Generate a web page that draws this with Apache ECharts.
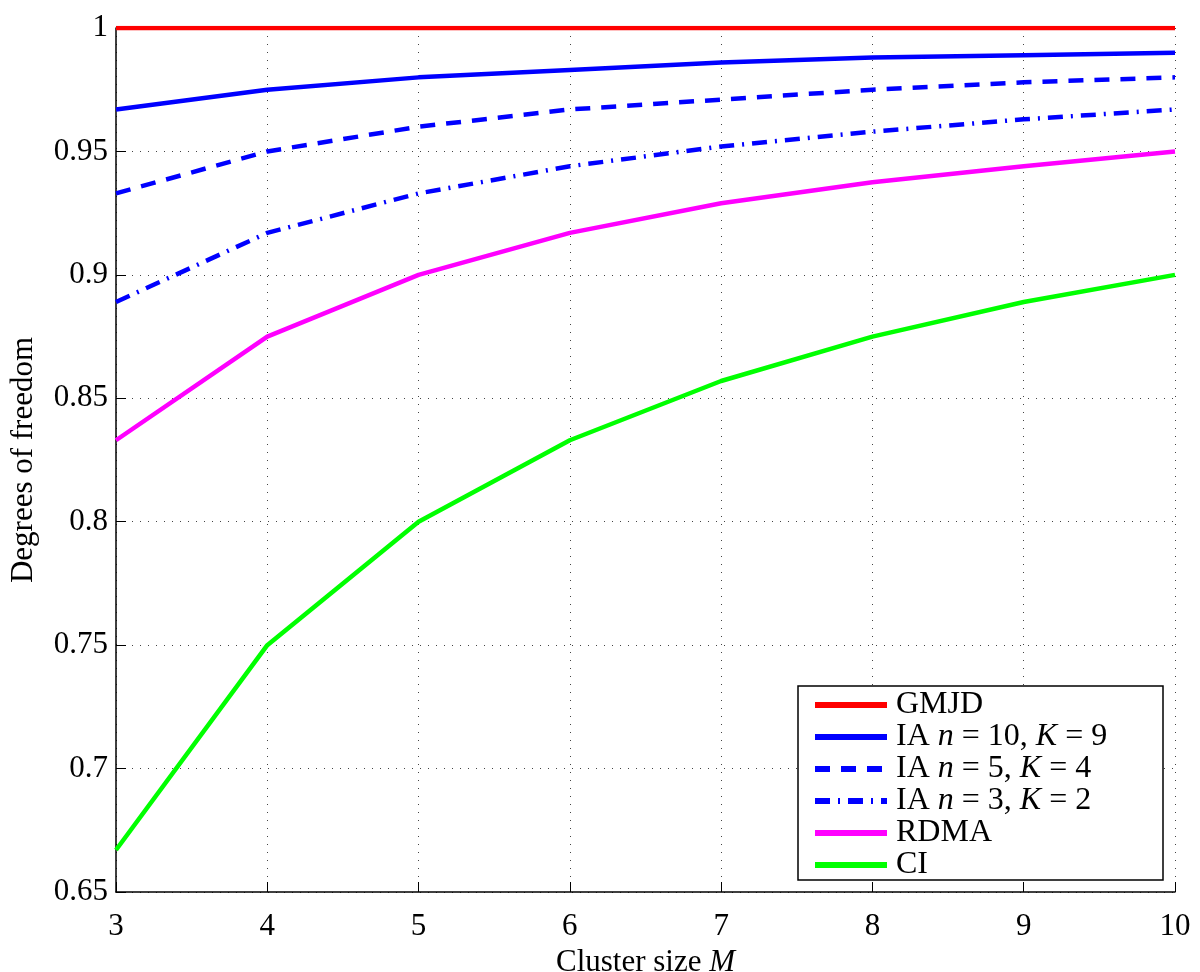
<!DOCTYPE html>
<html>
<head>
<meta charset="utf-8">
<script src="https://cdn.jsdelivr.net/npm/echarts@6/dist/echarts.min.js"></script>
<style>
    html, body { margin: 0; padding: 0; background: #fff; }
    #main { width: 1200px; height: 972px; }
</style>
</head>
<body>
<div id="main"></div>
<script>
var clusterSize = [3, 4, 5, 6, 7, 8, 9, 10];

var gmjd = [1, 1, 1, 1, 1, 1, 1, 1];
var ia10 = [0.967, 0.975, 0.980, 0.983, 0.986, 0.988, 0.989, 0.990];
var ia5 = [0.933, 0.950, 0.960, 0.967, 0.971, 0.975, 0.978, 0.980];
var ia3 = [0.889, 0.917, 0.933, 0.944, 0.952, 0.958, 0.963, 0.967];
var rdma = [0.833, 0.875, 0.900, 0.917, 0.929, 0.9375, 0.944, 0.950];
var ci = [0.667, 0.750, 0.800, 0.833, 0.857, 0.875, 0.889, 0.900];

var font = 'Liberation Serif';

function pairs(vals) {
    return clusterSize.map(function (m, i) { return [m, vals[i]]; });
}

function makeLine(name, vals, color, type, width) {
    return {
        name: name,
        type: 'line',
        data: pairs(vals),
        symbol: 'none',
        lineStyle: { color: color, width: width, type: type },
        itemStyle: { color: color },
        z: 3
    };
}

var legendNames = {
    'GMJD': 'GMJD',
    'IA1': 'IA {i|n} = 10, {i|K} = 9',
    'IA2': 'IA {i|n} = 5, {i|K} = 4',
    'IA3': 'IA {i|n} = 3, {i|K} = 2',
    'RDMA': 'RDMA',
    'CI': 'CI'
};

var myChart = echarts.init(document.getElementById('main'));

var option = {
    animation: false,
    backgroundColor: '#fff',
    grid: { left: 116, right: 25, top: 28, bottom: 80, outerBoundsMode: 'none' },
    xAxis: {
        type: 'value',
        min: 3,
        max: 10,
        interval: 1,
        name: 'Cluster size {i|M}',
        nameLocation: 'middle',
        nameGap: 48,
        nameTextStyle: {
            fontFamily: font, fontSize: 31, color: '#000',
            rich: { i: { fontFamily: font, fontSize: 31, fontStyle: 'italic', color: '#000' } }
        },
        axisLine: { show: true, onZero: false, lineStyle: { color: '#000', width: 1.5 } },
        axisTick: { inside: true, length: 10, lineStyle: { color: '#000', width: 1 } },
        axisLabel: { fontFamily: font, fontSize: 31, color: '#000', margin: 19 },
        splitLine: { show: true, lineStyle: { color: '#444', width: 1, type: [1, 7] } }
    },
    yAxis: {
        type: 'value',
        min: 0.65,
        max: 1,
        interval: 0.05,
        name: 'Degrees of freedom',
        nameLocation: 'middle',
        nameGap: 77,
        nameTextStyle: { fontFamily: font, fontSize: 31, color: '#000' },
        axisLine: { show: true, lineStyle: { color: '#000', width: 1.5 } },
        axisTick: { inside: true, length: 10, lineStyle: { color: '#000', width: 1 } },
        axisLabel: { fontFamily: font, fontSize: 31, color: '#000', margin: 8 },
        splitLine: { show: true, lineStyle: { color: '#444', width: 1, type: [1, 7] } }
    },
    graphic: [{
        type: 'rect',
        z: 10,
        shape: { x: 798, y: 686, width: 365, height: 194 },
        style: { fill: '#fff', stroke: '#000', lineWidth: 1.5 }
    }],
    legend: {
        orient: 'vertical',
        left: 798,
        top: 686,
        z: 20,
        padding: [3, 10, 6, 14],
        itemWidth: 72,
        itemHeight: 14,
        itemGap: 0,
        itemStyle: { opacity: 0 },
        lineStyle: { width: 6 },
        data: ['GMJD', 'IA1', 'IA2', 'IA3', 'RDMA', 'CI'],
        formatter: function (name) { return legendNames[name]; },
        textStyle: {
            fontFamily: font, fontSize: 32, color: '#000', lineHeight: 31, padding: [0, 0, 0, 4],
            rich: { i: { fontFamily: font, fontSize: 32, fontStyle: 'italic', color: '#000', lineHeight: 31 } }
        }
    },
    series: [
        makeLine('GMJD', gmjd, '#ff0000', 'solid', 4.5),
        makeLine('IA1', ia10, '#0000ff', 'solid', 4.5),
        makeLine('IA2', ia5, '#0000ff', [15, 11], 4.5),
        makeLine('IA3', ia3, '#0000ff', [15, 8, 2, 8], 4.5),
        makeLine('RDMA', rdma, '#ff00ff', 'solid', 4.5),
        makeLine('CI', ci, '#00ff00', 'solid', 4.5)
    ]
};

myChart.setOption(option);
</script>
</body>
</html>
